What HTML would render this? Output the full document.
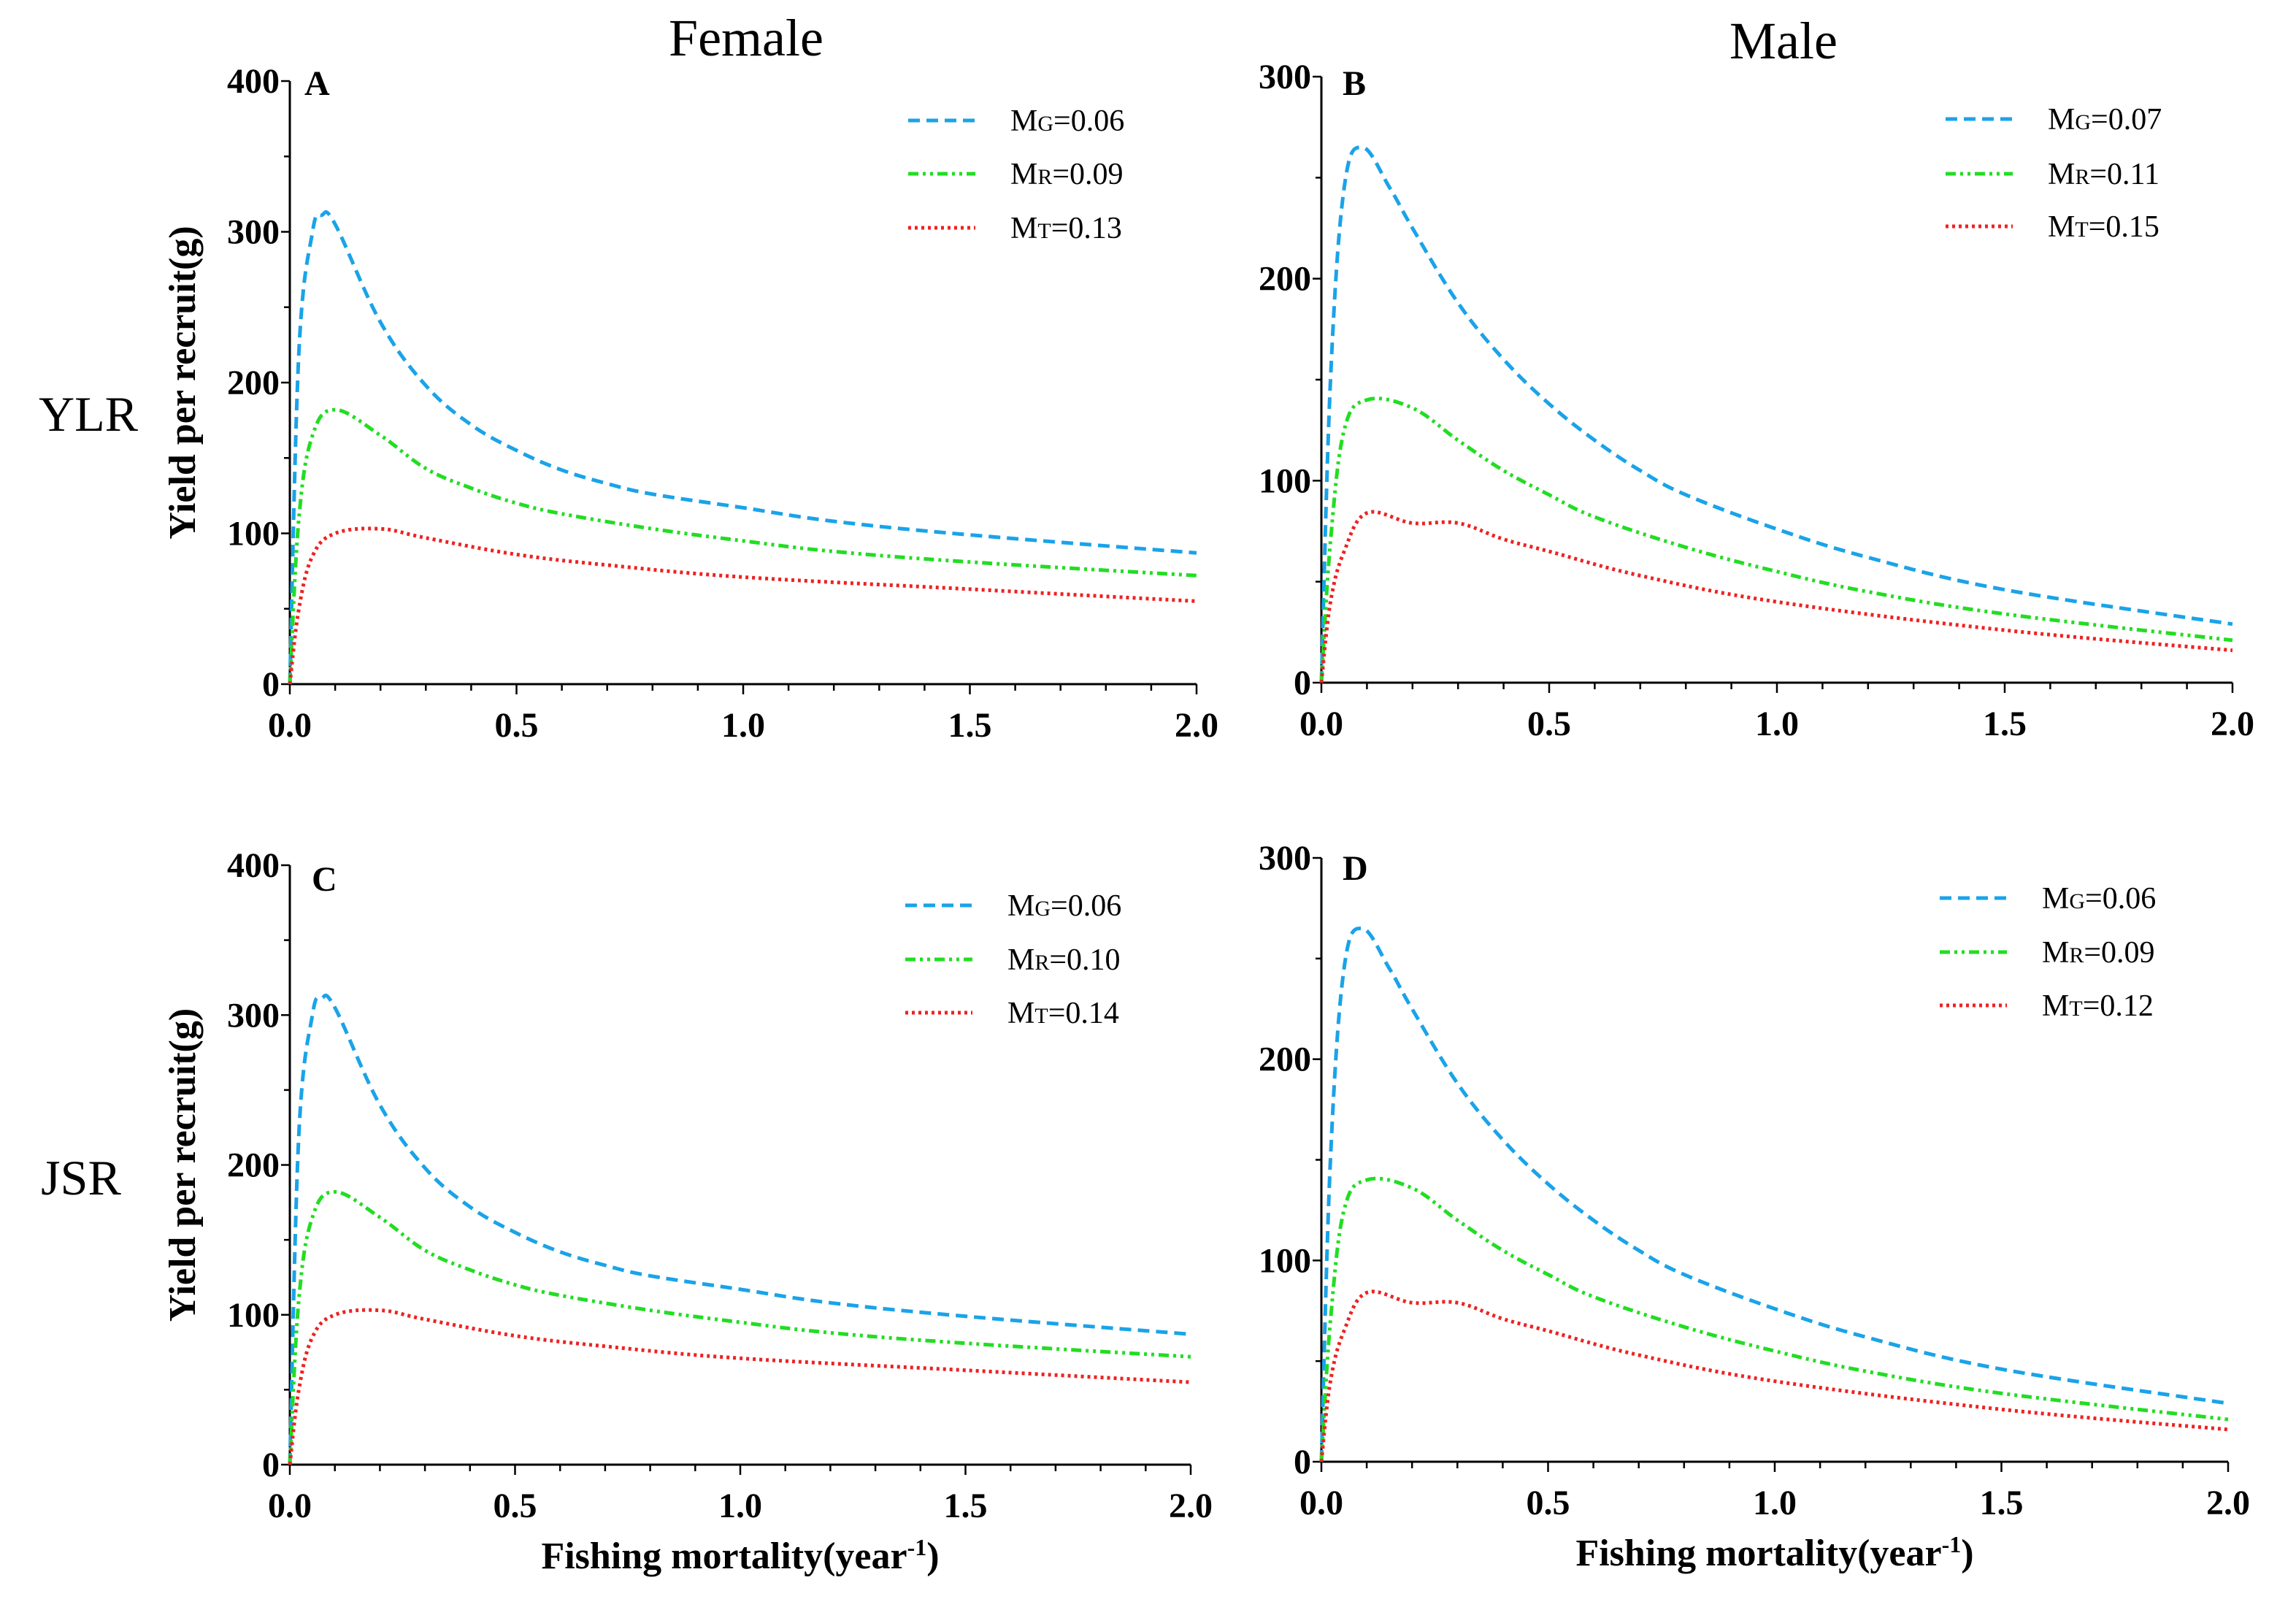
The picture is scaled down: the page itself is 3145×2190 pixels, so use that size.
<!DOCTYPE html>
<html><head><meta charset="utf-8">
<style>
html,body{margin:0;padding:0;background:#fff;}
svg{display:block;font-family:"Liberation Serif",serif;}
</style></head>
<body>
<svg id="fig" width="3145" height="2190" viewBox="0 0 3145 2190" xmlns="http://www.w3.org/2000/svg">
<text x="1022" y="76" font-size="72" text-anchor="middle">Female</text>
<text x="2443" y="80" font-size="72" text-anchor="middle">Male</text>
<text x="121" y="590" font-size="68" text-anchor="middle">YLR</text>
<text x="111" y="1636" font-size="68" text-anchor="middle">JSR</text>
</svg>
<script>
const fVals = [0,0.02,0.05,0.07,0.1,0.2,0.3,0.4,0.5,0.6,0.7,0.8,1.0,1.2,1.5,2.0];
const femaleBlue = [0,220,300,311,305,240,198,172,155,142,133,126,117,108,99,87];
const fVals2 = [0,0.02,0.05,0.1,0.2,0.3,0.4,0.5,0.6,0.8,1.0,1.2,1.5,2.0];
const femaleGreen = [0,110,165,182,165,143,130,120,113,103,95,88,81,72];
const fVals3 = [0,0.02,0.05,0.1,0.2,0.3,0.5,0.7,1.0,1.5,2.0];
const femaleRed = [0,50,85,100,103,97,86,79,71,63,55];
const mVals = [0,0.02,0.05,0.09,0.15,0.2,0.3,0.4,0.5,0.6,0.7,0.8,1.0,1.2,1.5,2.0];
const maleBlue = [0,150,245,265,245,225,188,160,138,120,105,93,76,62,46,29];
const mVals2 = [0,0.02,0.05,0.1,0.2,0.3,0.4,0.5,0.6,0.8,1.0,1.2,1.5,2.0];
const maleGreen = [0,70,125,140,136,120,105,93,82,67,55,45,34,21];
const mVals3 = [0,0.02,0.05,0.1,0.2,0.3,0.4,0.5,0.7,1.0,1.5,2.0];
const maleRed = [0,40,65,84,79,79,71,65,53,40,26,16];
const xTicks = ["0.0","0.5","1.0","1.5","2.0"];
const femaleYTicks = [0,100,200,300,400];
const maleYTicks = [0,100,200,300];
const legendA = ["0.06","0.09","0.13"];
const legendB = ["0.07","0.11","0.15"];
const legendC = ["0.06","0.10","0.14"];
const legendD = ["0.06","0.09","0.12"];

const NS="http://www.w3.org/2000/svg";
const svg=document.getElementById('fig');
function mk(tag,attrs,parent){const e=document.createElementNS(NS,tag);for(const k in attrs)e.setAttribute(k,attrs[k]);(parent||svg).appendChild(e);return e;}

const styles=[
 {c:"#1aa3e8",d:"16 9",lab:"G"},
 {c:"#22dd22",d:"14 6 4 6 4 6",lab:"R"},
 {c:"#ee2222",d:"4 5",lab:"T"}
];

function smooth(pts){
 let d='M'+pts[0][0].toFixed(1)+' '+pts[0][1].toFixed(1);
 for(let i=0;i<pts.length-1;i++){
  const p0=pts[Math.max(0,i-1)],p1=pts[i],p2=pts[i+1],p3=pts[Math.min(pts.length-1,i+2)];
  const t=0.18;
  const c1=[p1[0]+(p2[0]-p0[0])*t,p1[1]+(p2[1]-p0[1])*t];
  const c2=[p2[0]-(p3[0]-p1[0])*t,p2[1]-(p3[1]-p1[1])*t];
  d+=` C${c1[0].toFixed(1)} ${c1[1].toFixed(1)} ${c2[0].toFixed(1)} ${c2[1].toFixed(1)} ${p2[0].toFixed(1)} ${p2[1].toFixed(1)}`;
 }
 return d;
}

function panel(p){
 const g=mk('g',{});
 
 
 const xs=v=>p.x0+(p.x1-p.x0)*v/2;
 const ys=v=>p.y0-(p.y0-p.yT)*v/p.yMax;
 const ax=mk('path',{d:`M${p.x0} ${p.yT}V${p.y0}H${p.x1}`,stroke:'#000','stroke-width':3,fill:'none'},g);
  
 for(let i=0;i<=20;i++){const xv=i*0.1;const t=mk('line',{x1:xs(xv),x2:xs(xv),y1:p.y0,y2:p.y0+(i%5==0?14:9),stroke:'#000','stroke-width':2.5},g);
  }
 xTicks.forEach((s,i)=>{const t=mk('text',{x:xs(i*0.5),y:p.y0+72,'font-size':48,'font-weight':'bold','text-anchor':'middle'},g);t.textContent=s;
  });
 for(let v=0;v<=p.yMax;v+=50){const t=mk('line',{x1:p.x0-(v%100==0?12:8),x2:p.x0,y1:ys(v),y2:ys(v),stroke:'#000','stroke-width':2.5},g);
  }
 p.yTicks.forEach(v=>{const t=mk('text',{x:p.x0-14,y:ys(v)+16,'font-size':48,'font-weight':'bold','text-anchor':'end'},g);t.textContent=v;
  });
 const L=mk('text',{x:p.lx,y:p.ly,'font-size':48,'font-weight':'bold'},g);L.textContent=p.letter;
 
 if(p.ytitle){const t=mk('text',{transform:`translate(${p.x0-130},${(p.y0+p.yT)/2}) rotate(-90)`,'font-size':52,'font-weight':'bold','text-anchor':'middle'},g);t.textContent='Yield per recruit(g)';
  }
 if(p.xtitle){const t=mk('text',{x:(p.x0+p.x1)/2,y:p.y0+142,'font-size':52,'font-weight':'bold','text-anchor':'middle'},g);
  t.innerHTML='Fishing mortality(year<tspan dy="-18" font-size="32">-1</tspan><tspan dy="18">)</tspan>';
  }
 p.series.forEach((s,i)=>{const st=styles[i];
  const pts=s.xv.map((x,j)=>[xs(x),ys(s.y[j])]);
  const pl=mk('path',{d:smooth(pts),stroke:st.c,'stroke-width':5,fill:'none','stroke-dasharray':st.d,'stroke-linejoin':'round'},g);
  
  const ly=p.legY[i];
  const ll=mk('line',{x1:p.legX,x2:p.legX+92,y1:ly,y2:ly,stroke:st.c,'stroke-width':5,'stroke-dasharray':st.d},g);
  
  const lt=mk('text',{x:p.legX+140,y:ly+14,'font-size':42},g);
  lt.innerHTML='M<tspan font-size="30">'+st.lab+'</tspan>='+p.legend[i];
  
 });
}
panel({letter:'A',x0:397,x1:1639,y0:937,yT:111,yMax:400,yTicks:femaleYTicks,lx:417,ly:130,ytitle:true,legX:1244,legY:[165,238,312],legend:legendA,
 series:[{xv:fVals,y:femaleBlue},{xv:fVals2,y:femaleGreen},{xv:fVals3,y:femaleRed}]});
panel({letter:'B',x0:1810,x1:3058,y0:935,yT:105,yMax:300,yTicks:maleYTicks,lx:1839,ly:130,legX:2665,legY:[163,238,310],legend:legendB,
 series:[{xv:mVals,y:maleBlue},{xv:mVals2,y:maleGreen},{xv:mVals3,y:maleRed}]});
panel({letter:'C',x0:397,x1:1631,y0:2006,yT:1185,yMax:400,yTicks:femaleYTicks,lx:427,ly:1220,ytitle:true,xtitle:true,legX:1240,legY:[1240,1314,1387],legend:legendC,
 series:[{xv:fVals,y:femaleBlue},{xv:fVals2,y:femaleGreen},{xv:fVals3,y:femaleRed}]});
panel({letter:'D',x0:1810,x1:3052,y0:2002,yT:1175,yMax:300,yTicks:maleYTicks,lx:1839,ly:1205,xtitle:true,legX:2657,legY:[1230,1304,1377],legend:legendD,
 series:[{xv:mVals,y:maleBlue},{xv:mVals2,y:maleGreen},{xv:mVals3,y:maleRed}]});
</script>
</body></html>
